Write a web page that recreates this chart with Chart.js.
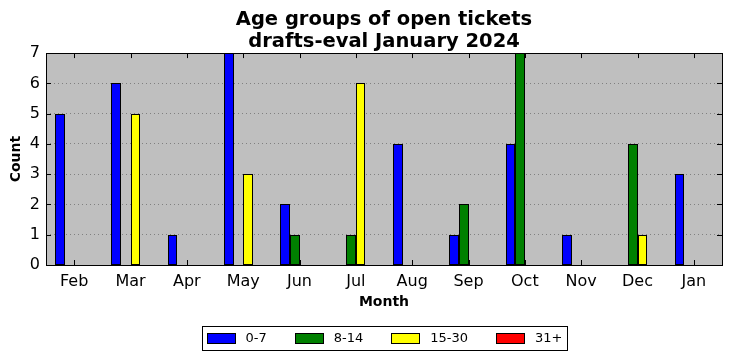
<!DOCTYPE html>
<html>
<head>
<meta charset="utf-8">
<script src="https://cdn.jsdelivr.net/npm/chart.js@4/dist/chart.umd.min.js"></script>
<style>
  html, body { margin: 0; padding: 0; background: #fff; }
  #wrap { width: 732px; height: 361px; }
</style>
</head>
<body>
<div id="wrap"><canvas id="chart" width="732" height="361"></canvas></div>
<script>
// data
var months = ['Feb', 'Mar', 'Apr', 'May', 'Jun', 'Jul', 'Aug', 'Sep', 'Oct', 'Nov', 'Dec', 'Jan'];
var age0to7   = [5, 6, 1, 7, 2, 0, 4, 1, 4, 1, 0, 3];
var age8to14  = [0, 0, 0, 0, 1, 1, 0, 2, 7, 0, 4, 0];
var age15to30 = [0, 5, 0, 3, 0, 6, 0, 0, 0, 0, 1, 0];
var age31plus = [0, 0, 0, 0, 0, 0, 0, 0, 0, 0, 0, 0];
var yTicks = [0, 1, 2, 3, 4, 5, 6, 7];

Chart.defaults.font.family = 'DejaVu Sans';
Chart.defaults.color = '#000';

function series(label, data, color) {
  return {
    label: label,
    data: data,
    backgroundColor: color,
    borderColor: '#000',
    borderWidth: 1,
    borderSkipped: false,
    inflateAmount: 0,
    categoryPercentage: 0.68,
    barPercentage: 1.0
  };
}

// snap bar edges to whole pixels so the outlines stay crisp
var snapBars = {
  id: 'snapBars',
  afterDatasetsUpdate: function (chart) {
    chart.data.datasets.forEach(function (d, i) {
      chart.getDatasetMeta(i).data.forEach(function (bar) {
        var l = Math.round(bar.x - bar.width / 2);
        var r = Math.round(bar.x + bar.width / 2);
        bar.x = (l + r) / 2;
        bar.width = r - l;
        bar.y = Math.round(bar.y);
        bar.base = Math.round(bar.base);
      });
    });
  }
};

// matplotlib-like frame, inward ticks and a boxed legend under the chart
var mplFrame = {
  id: 'mplFrame',
  beforeDraw: function (chart) {
    var a = chart.chartArea, ctx = chart.ctx;
    ctx.save();
    ctx.fillStyle = '#bfbfbf';
    ctx.fillRect(a.left, a.top, a.right - a.left, a.bottom - a.top);
    ctx.restore();
  },
  afterDraw: function (chart) {
    var a = chart.chartArea, ctx = chart.ctx;
    var xs = chart.scales.x, ys = chart.scales.y;
    ctx.save();
    ctx.strokeStyle = '#000';
    ctx.lineWidth = 1;
    ctx.beginPath();
    months.forEach(function (m, i) {
      var px = Math.round(xs.getPixelForValue(i)) + 0.5;
      ctx.moveTo(px, a.top); ctx.lineTo(px, a.top + 5);
      ctx.moveTo(px, a.bottom); ctx.lineTo(px, a.bottom - 5);
    });
    yTicks.forEach(function (v) {
      var py = Math.round(ys.getPixelForValue(v)) + 0.5;
      ctx.moveTo(a.left, py); ctx.lineTo(a.left + 5, py);
      ctx.moveTo(a.right, py); ctx.lineTo(a.right - 5, py);
    });
    ctx.stroke();
    ctx.strokeRect(Math.round(a.left) + 0.5, Math.round(a.top) + 0.5,
                   Math.round(a.right - a.left), Math.round(a.bottom - a.top));

    // legend
    var sets = chart.data.datasets;
    ctx.font = '13px "DejaVu Sans"';
    ctx.textBaseline = 'middle';
    ctx.textAlign = 'left';
    var swW = 28, swH = 10, gapIn = 11, gapOut = 28;
    var total = 0;
    sets.forEach(function (d, i) {
      total += swW + gapIn + ctx.measureText(d.label).width + (i < sets.length - 1 ? gapOut : 0);
    });
    var boxL = 202, boxR = 567, boxT = 326, boxB = 350;
    var x = (boxL + boxR) / 2 - total / 2;
    var cy = (boxT + boxB) / 2;
    ctx.lineWidth = 1;
    ctx.strokeRect(boxL + 0.5, boxT + 0.5, boxR - boxL, boxB - boxT);
    sets.forEach(function (d) {
      ctx.fillStyle = d.backgroundColor;
      ctx.fillRect(Math.round(x), Math.round(cy - swH / 2), swW, swH);
      ctx.strokeStyle = '#000';
      ctx.strokeRect(Math.round(x) + 0.5, Math.round(cy - swH / 2) + 0.5, swW, swH);
      x += swW + gapIn;
      ctx.fillStyle = '#000';
      ctx.fillText(d.label, x, cy + 1);
      x += ctx.measureText(d.label).width + gapOut;
    });
    ctx.restore();
  }
};

new Chart(document.getElementById('chart'), {
  type: 'bar',
  data: {
    labels: months,
    datasets: [
      series('0-7', age0to7, '#0000ff'),
      series('8-14', age8to14, '#008000'),
      series('15-30', age15to30, '#ffff00'),
      series('31+', age31plus, '#ff0000')
    ]
  },
  options: {
    responsive: false,
    animation: false,
    layout: { padding: { left: 0, right: 10, top: 0, bottom: 46 } },
    plugins: {
      title: {
        display: true,
        fullSize: false,
        text: ['Age groups of open tickets', 'drafts-eval January 2024'],
        font: { size: 19.5, weight: 'bold', lineHeight: 1.13 },
        padding: { top: 9, bottom: 0 }
      },
      legend: { display: false },
      tooltip: { enabled: false }
    },
    scales: {
      x: {
        afterFit: function (scale) { scale.height = 50; },
        grid: { display: false },
        border: { display: false },
        ticks: { font: { size: 16 }, padding: -1, maxRotation: 0 },
        title: { display: true, text: 'Month', font: { size: 14, weight: 'bold' }, padding: { top: 0, bottom: 4 } }
      },
      y: {
        min: 0,
        max: 7,
        afterFit: function (scale) { scale.width = 46; },
        ticks: { stepSize: 1, font: { size: 16 }, padding: 6 },
        grid: { color: '#808080', drawTicks: false, lineWidth: 1 },
        border: { display: false, dash: [1, 3] },
        title: { display: true, text: 'Count', font: { size: 14, weight: 'bold' }, padding: { top: 8, bottom: 0 } }
      }
    }
  },
  plugins: [snapBars, mplFrame]
});
</script>
</body>
</html>
